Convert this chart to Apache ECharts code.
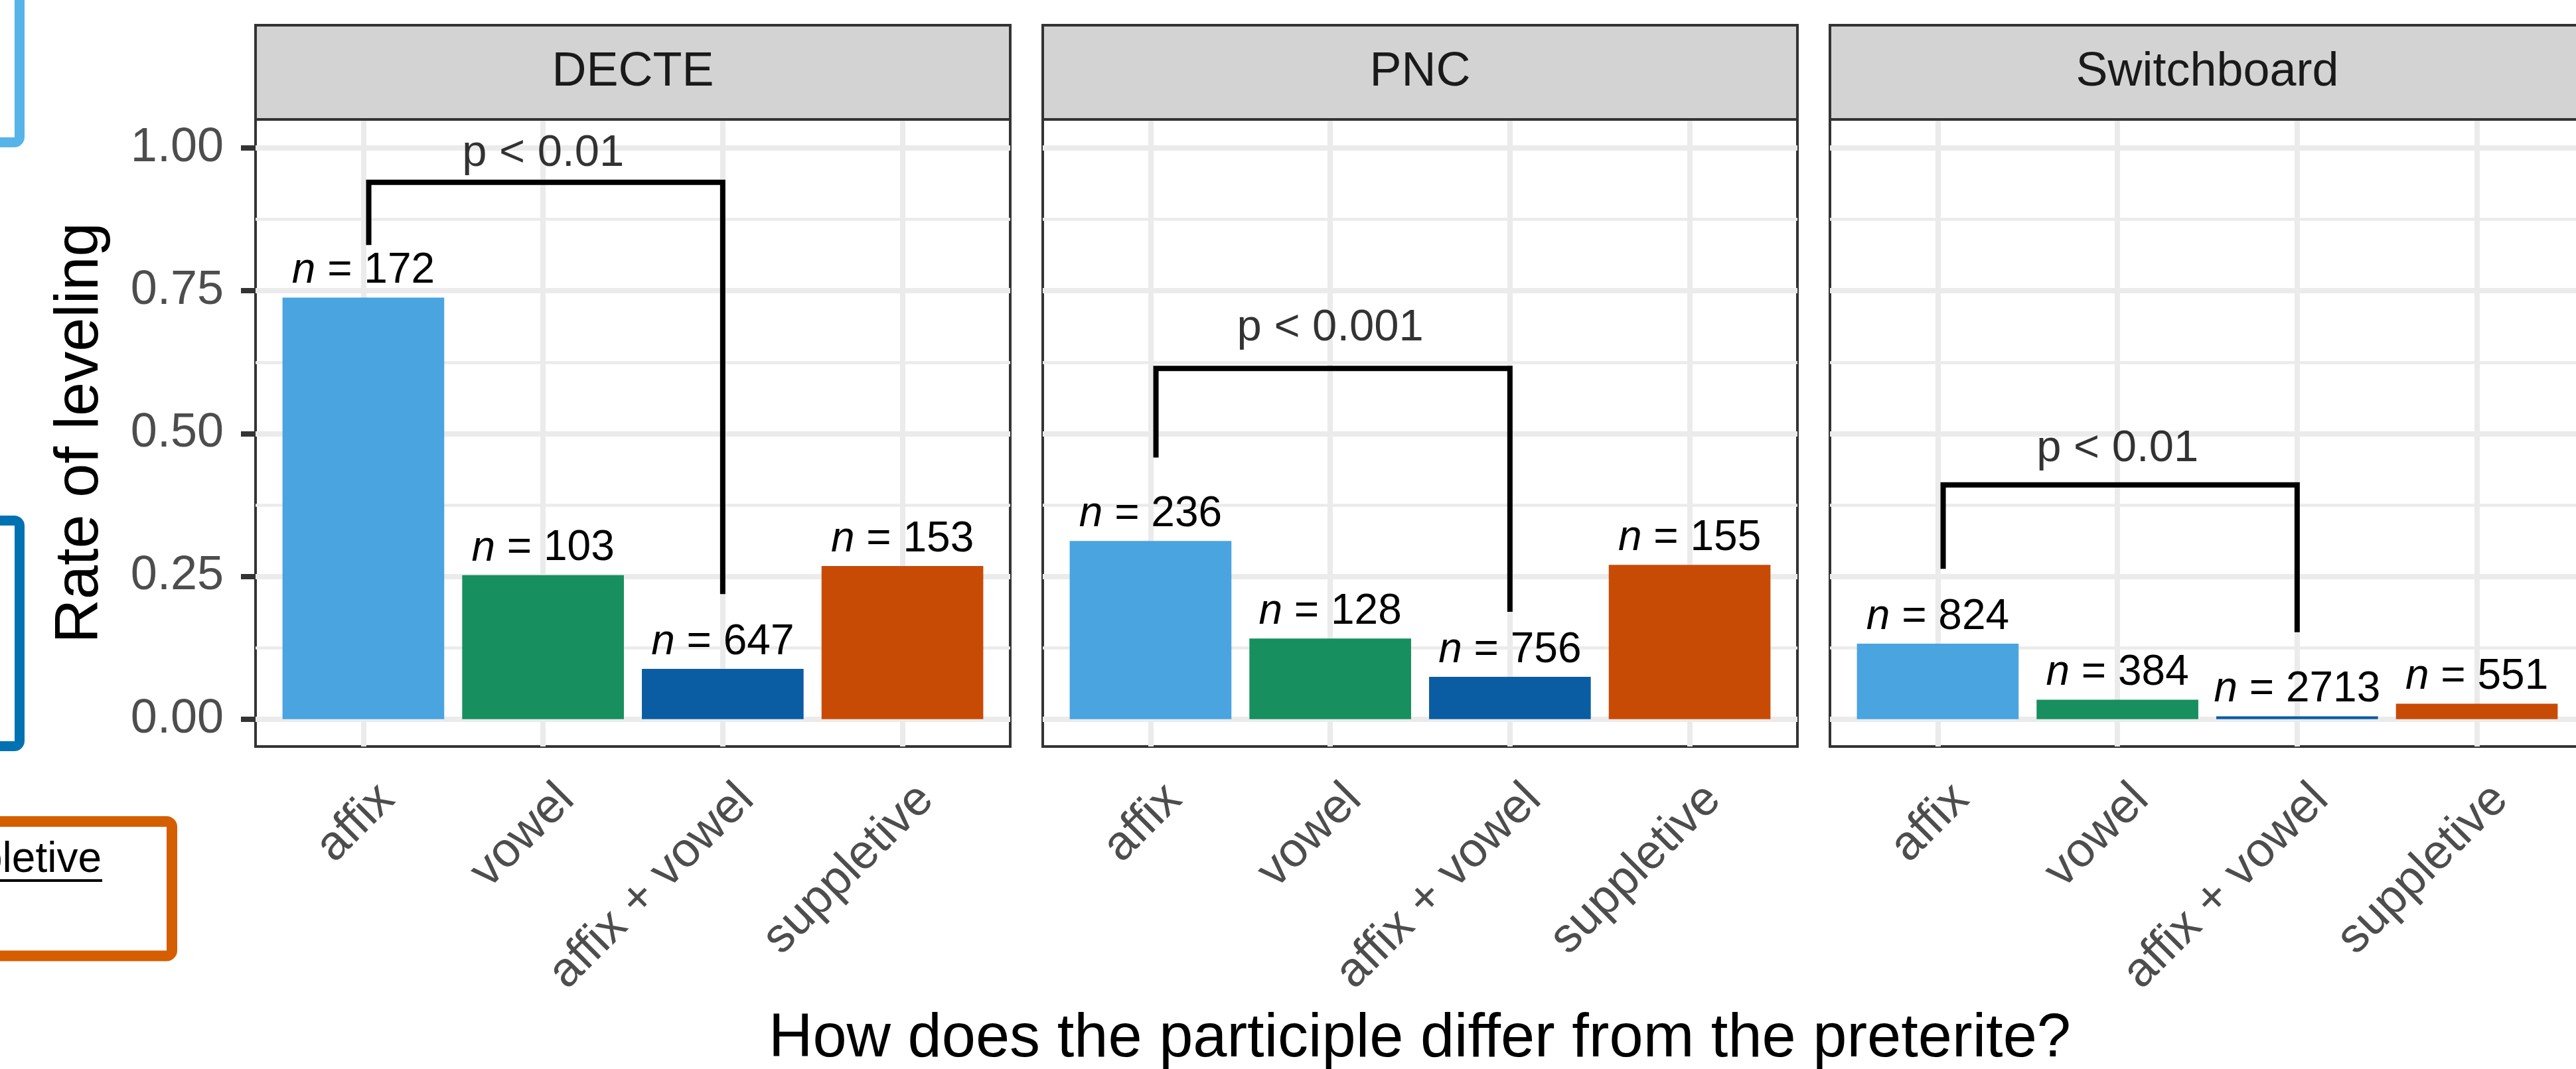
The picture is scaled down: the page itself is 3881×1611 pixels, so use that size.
<!DOCTYPE html>
<html>
<head>
<meta charset="utf-8">
<script src="https://cdn.jsdelivr.net/npm/echarts@6/dist/echarts.min.js"></script>
<style>
html, body { margin: 0; padding: 0; background: #fff; }
#chart { width: 3881px; height: 1611px; }
</style>
</head>
<body>
<div id="chart"></div>
<script>
var corpora = ['DECTE', 'PNC', 'Switchboard'];
var categories = ['affix', 'vowel', 'affix + vowel', 'suppletive'];
var catPos = [1, 2, 3, 4];
var barColors = ['#49A4E0', '#178F5F', '#0A5DA2', '#C84B05'];

var decteRate = [0.738, 0.252, 0.088, 0.268];
var pncRate = [0.312, 0.141, 0.074, 0.270];
var switchboardRate = [0.132, 0.034, 0.005, 0.027];

var decteN = [172, 103, 647, 153];
var pncN = [236, 128, 756, 155];
var switchboardN = [824, 384, 2713, 551];

// bracket: left leg bottom, top, right leg bottom
var decteBracket = [0.830, 0.940, 0.219];
var pncBracket = [0.458, 0.614, 0.188];
var switchboardBracket = [0.263, 0.410, 0.152];
var bracketX = [1.03, 3];
var pLabels = ['p < 0.01', 'p < 0.001', 'p < 0.01'];
var pLabelY = [0.990, 0.685, 0.473];

var yTicks = [0, 0.25, 0.5, 0.75, 1];
var yMinor = [0.125, 0.375, 0.625, 0.875];

var rates = [decteRate, pncRate, switchboardRate];
var counts = [decteN, pncN, switchboardN];
var brackets = [decteBracket, pncBracket, switchboardBracket];

var FONT = '"Liberation Sans", Arial, Helvetica, sans-serif';
var panelLeft = [385, 1571, 2757];
var panelW = 1137, panelTop = 180, panelH = 945;
var xMin = 0.4, xMax = 4.6, yMin = -0.048, yMax = 1.05;

var chart = echarts.init(document.getElementById('chart'));

var grids = [], xAxes = [], yAxes = [], series = [], graphics = [];

for (var i = 0; i < 3; i++) {
    grids.push({
        left: panelLeft[i], top: panelTop, width: panelW, height: panelH,
        show: true, backgroundColor: '#fff', borderColor: '#333333', borderWidth: 4,
        outerBoundsMode: 'none'
    });
    xAxes.push({
        type: 'value', gridIndex: i, min: xMin, max: xMax,
        axisLine: { show: false },
        splitLine: { show: false },
        axisTick: { show: true, customValues: catPos, length: 22, lineStyle: { color: '#333333', width: 8 } },
        axisLabel: {
            customValues: catPos,
            formatter: function (v) { return categories[Math.round(v) - 1]; },
            rotate: 45, fontSize: 73, color: '#4D4D4D', fontFamily: FONT,
            margin: 33, verticalAlign: 'top', padding: [14, 0, 0, 0]
        }
    });
    yAxes.push({
        type: 'value', gridIndex: i, min: yMin, max: yMax,
        axisLine: { show: false },
        splitLine: { show: false },
        axisTick: { show: i === 0, customValues: yTicks, length: 22, lineStyle: { color: '#333333', width: 8 } },
        axisLabel: {
            show: i === 0, customValues: yTicks,
            formatter: function (v) { return v.toFixed(2); },
            fontSize: 72, color: '#4D4D4D', fontFamily: FONT, margin: 48
        }
    });

    // grid lines
    var major = [], minor = [];
    yTicks.forEach(function (v) { major.push({ coords: [[xMin, v], [xMax, v]] }); });
    catPos.forEach(function (k) { major.push({ coords: [[k, yMin], [k, yMax]] }); });
    yMinor.forEach(function (v) { minor.push({ coords: [[xMin, v], [xMax, v]] }); });
    series.push({
        type: 'lines', coordinateSystem: 'cartesian2d', xAxisIndex: i, yAxisIndex: i,
        data: minor, silent: true, z: 1,
        lineStyle: { color: '#EBEBEB', width: 4.5, opacity: 1 }
    });
    series.push({
        type: 'lines', coordinateSystem: 'cartesian2d', xAxisIndex: i, yAxisIndex: i,
        data: major, silent: true, z: 1,
        lineStyle: { color: '#EBEBEB', width: 8, opacity: 1 }
    });

    // bars
    (function (idx) {
        series.push({
            type: 'bar', xAxisIndex: idx, yAxisIndex: idx, z: 2,
            barWidth: 0.9 * panelW / (xMax - xMin),
            data: rates[idx].map(function (v, k) {
                return { value: [catPos[k], v], itemStyle: { color: barColors[k] } };
            }),
            label: {
                show: true, position: 'top', distance: 8,
                fontSize: 64, color: '#000', fontFamily: FONT,
                formatter: function (p) { return '{i|n} = ' + counts[idx][p.dataIndex]; },
                rich: { i: { fontStyle: 'italic', fontSize: 64, color: '#000', fontFamily: FONT } }
            }
        });
    })(i);

    // significance bracket
    var b = brackets[i];
    series.push({
        type: 'line', xAxisIndex: i, yAxisIndex: i, z: 3, silent: true,
        symbol: 'none',
        data: [[bracketX[0], b[0]], [bracketX[0], b[1]], [bracketX[1], b[1]], [bracketX[1], b[2]]],
        lineStyle: { color: '#000', width: 8, cap: 'butt', join: 'miter' }
    });
    series.push({
        type: 'scatter', xAxisIndex: i, yAxisIndex: i, z: 3, silent: true,
        symbol: 'circle', symbolSize: 1, itemStyle: { color: 'rgba(0,0,0,0)' },
        data: [[(bracketX[0] + bracketX[1]) / 2 - 0.015, pLabelY[i]]],
        label: {
            show: true, position: 'inside', formatter: pLabels[i],
            fontSize: 67, color: '#000', fontFamily: FONT
        }
    });

    // strip
    graphics.push({
        type: 'rect', z: 10,
        shape: { x: panelLeft[i], y: 38, width: panelW, height: panelTop - 38 },
        style: { fill: '#D3D3D3', stroke: '#333333', lineWidth: 4 }
    });
    graphics.push({
        type: 'text', z: 11,
        style: {
            text: corpora[i], x: panelLeft[i] + panelW / 2, y: 109,
            textAlign: 'center', textVerticalAlign: 'middle', align: 'center', verticalAlign: 'middle',
            fontSize: 72, fontFamily: FONT, fill: '#1A1A1A'
        }
    });
}

// axis titles
graphics.push({
    type: 'text', x: 122, y: panelTop + panelH / 2, rotation: Math.PI / 2,
    style: {
        text: 'Rate of leveling', x: 0, y: 0,
        textAlign: 'center', textVerticalAlign: 'middle', align: 'center', verticalAlign: 'middle',
        fontSize: 92, fontFamily: FONT, fill: '#000'
    }
});
graphics.push({
    type: 'text',
    style: {
        text: 'How does the participle differ from the preterite?', x: 2139, y: 1567,
        textAlign: 'center', textVerticalAlign: 'middle', align: 'center', verticalAlign: 'middle',
        fontSize: 92, fontFamily: FONT, fill: '#000'
    }
});

// bits of neighbouring legend boxes at the left edge
graphics.push({
    type: 'rect', shape: { x: -100, y: -100, width: 129.5, height: 314.5, r: 8 },
    style: { fill: 'none', stroke: '#56B4E9', lineWidth: 15 }
});
graphics.push({
    type: 'rect', shape: { x: -100, y: 784.5, width: 129.5, height: 340, r: 8 },
    style: { fill: 'none', stroke: '#0072B2', lineWidth: 15 }
});
graphics.push({
    type: 'rect', shape: { x: -100, y: 1238, width: 359, height: 202.5, r: 8 },
    style: { fill: 'none', stroke: '#D55E00', lineWidth: 16 }
});
graphics.push({
    type: 'text',
    style: {
        text: 'suppletive', x: 153, y: 1296,
        textAlign: 'right', textVerticalAlign: 'middle', align: 'right', verticalAlign: 'middle',
        fontSize: 64, fontFamily: FONT, fill: '#000'
    }
});
graphics.push({
    type: 'line', shape: { x1: -10, y1: 1327, x2: 154, y2: 1327 },
    style: { stroke: '#000', lineWidth: 4 }
});

chart.setOption({
    animation: false,
    backgroundColor: '#fff',
    textStyle: { fontFamily: FONT },
    grid: grids,
    xAxis: xAxes,
    yAxis: yAxes,
    series: series,
    graphic: { elements: graphics }
});
window.addEventListener('resize', chart.resize);
</script>
</body>
</html>
